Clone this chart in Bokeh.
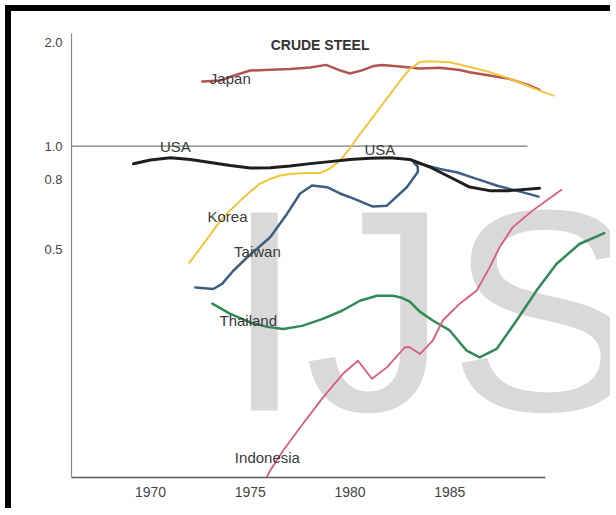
from bokeh.plotting import figure
from bokeh.models import Range1d, FixedTicker, CustomJSTickFormatter, Label
from bokeh.core.properties import value
from bokeh.embed import file_html
from bokeh.resources import INLINE

# ---------------- data ----------------
year_ticks = [1970, 1975, 1980, 1985]
value_ticks = [0.5, 0.8, 1.0, 2.0]

usa_years = [1969.15, 1970, 1971, 1972, 1973, 1974, 1975, 1976, 1977, 1978, 1979,
             1980, 1981, 1982, 1983, 1983.5, 1984, 1985, 1986, 1987, 1988, 1989.5]
usa_vals = [0.888, 0.911, 0.925, 0.914, 0.896, 0.878, 0.863, 0.865, 0.875, 0.889, 0.901,
            0.914, 0.921, 0.924, 0.914, 0.892, 0.869, 0.813, 0.760, 0.742, 0.742, 0.754]

japan_years = [1972.6, 1973.5, 1974.2, 1975.0, 1976.0, 1977.0, 1978.0, 1978.8, 1979.5, 1980.0,
               1980.6, 1981.2, 1981.6, 1982.5, 1983.5, 1984.5, 1985.5, 1986.0, 1987.0, 1988.0,
               1989.0, 1989.5]
japan_vals = [1.540, 1.551, 1.604, 1.658, 1.668, 1.675, 1.692, 1.722, 1.660, 1.625,
              1.660, 1.710, 1.722, 1.703, 1.680, 1.690, 1.665, 1.639, 1.604, 1.568,
              1.500, 1.457]

korea_years = [1971.95, 1972.5, 1973, 1973.5, 1974, 1974.5, 1975, 1975.5, 1976, 1976.5, 1977,
               1977.5, 1978, 1978.5, 1979, 1979.5, 1980, 1980.5, 1981, 1981.5, 1982, 1982.5,
               1983, 1983.5, 1984, 1985, 1986, 1987, 1988, 1989, 1989.5, 1990.2]
korea_vals = [0.458, 0.505, 0.553, 0.607, 0.651, 0.694, 0.737, 0.778, 0.802, 0.821, 0.829,
              0.834, 0.835, 0.835, 0.860, 0.907, 0.987, 1.084, 1.182, 1.294, 1.412, 1.546,
              1.675, 1.755, 1.765, 1.752, 1.697, 1.641, 1.572, 1.490, 1.450, 1.402]

taiwan_years = [1972.25, 1973.15, 1973.6, 1974.15, 1974.85, 1976.0, 1976.85, 1977.5, 1978.1,
                1978.85, 1979.5, 1980.0, 1981.15, 1981.85, 1982.85, 1983.4, 1983.4, 1983.2,
                1983.5, 1984.5, 1985.35, 1986.35, 1987.35, 1988.35, 1989.45]
taiwan_vals = [0.388, 0.384, 0.398, 0.434, 0.475, 0.543, 0.636, 0.728, 0.768,
               0.759, 0.728, 0.710, 0.667, 0.671, 0.759, 0.840, 0.870, 0.895,
               0.888, 0.858, 0.839, 0.803, 0.768, 0.742, 0.713]

thailand_years = [1973.1, 1974.0, 1975.0, 1975.85, 1976.65, 1977.6, 1978.6, 1979.6, 1980.5,
                  1981.35, 1982.15, 1982.6, 1983.0, 1983.5, 1984.15, 1985.0, 1985.85, 1986.5,
                  1987.35, 1988.35, 1989.35, 1990.35, 1991.5, 1992.75]
thailand_vals = [0.348, 0.325, 0.307, 0.298, 0.294, 0.300, 0.314, 0.332, 0.355,
                 0.367, 0.367, 0.362, 0.353, 0.330, 0.311, 0.291, 0.254, 0.243,
                 0.257, 0.311, 0.380, 0.454, 0.519, 0.558]

indonesia_years = [1975.8, 1976.0, 1976.65, 1977.65, 1978.65, 1979.65, 1980.4, 1981.1, 1981.85,
                   1982.75, 1983.0, 1983.5, 1984.15, 1984.65, 1985.5, 1986.35, 1987.0, 1987.5,
                   1988.15, 1989.15, 1990.6]
indonesia_vals = [0.108, 0.1139, 0.1302, 0.1560, 0.1859, 0.2177, 0.2375, 0.2105, 0.2272,
                  0.2600, 0.2600, 0.2484, 0.2720, 0.311, 0.348, 0.380, 0.444, 0.508,
                  0.580, 0.649, 0.746]

series = [
    ("Japan", japan_years, japan_vals, "#b0544f", 2.5),
    ("Korea", korea_years, korea_vals, "#f2c53a", 2.0),
    ("Taiwan", taiwan_years, taiwan_vals, "#3d5f80", 2.5),
    ("Thailand", thailand_years, thailand_vals, "#2f8a55", 2.5),
    ("Indonesia", indonesia_years, indonesia_vals, "#db5a80", 1.8),
    ("USA", usa_years, usa_vals, "#1e1e1e", 3.0),
]

# label anchors (annotation positions)
label_pos = [
    ("USA", 1971.25, 1.0),
    ("USA", 1981.5, 0.98),
    ("Japan", 1974.0, 1.57),
    ("Korea", 1973.86, 0.624),
    ("Taiwan", 1975.36, 0.495),
    ("Thailand", 1974.9, 0.311),
    ("Indonesia", 1975.86, 0.124),
]

FONT = "Liberation Sans"

p = figure(width=605, height=503, y_axis_type="log",
           x_range=Range1d(1966.04, 1993.36), y_range=Range1d(0.1087, 2.318),
           output_backend="svg", toolbar_location=None,
           min_border_left=60, min_border_right=0, min_border_top=9, min_border_bottom=37,
           background_fill_color="white", border_fill_color="white")
p.outline_line_color = None
p.grid.visible = False
p.styles = {"border-top": "6px solid #000", "border-left": "6px solid #000",
            "margin-left": "5px", "margin-top": "5px"}

# watermark (drawn first, underneath the lines)
p.text(x=[1973.7], y=[0.3325], text=["IJS"], text_font=value(FONT), text_font_size="288px",
       text_color="#d9d9d9", text_align="left", text_baseline="alphabetic")

# reference line at 1.0
p.line([1966.04, 1988.9], [1.0, 1.0], line_color="#7a7a7a", line_width=1.2)

for name, xs, ys, color, lw in series:
    p.line(xs, ys, line_color=color, line_width=lw, line_join="round", line_cap="round")

# axes
p.xaxis.ticker = FixedTicker(ticks=year_ticks)
p.xaxis.bounds = (1966.04, 1989.8)
p.xaxis.axis_line_color = "#5a5a5a"
p.xaxis.axis_line_width = 1.5
p.xaxis.major_label_text_font_size = "14px"
p.xaxis.major_label_standoff = 9

p.yaxis.ticker = FixedTicker(ticks=value_ticks)
p.yaxis.formatter = CustomJSTickFormatter(code="return tick.toFixed(1);")
p.yaxis.bounds = (0.1087, 2.124)
p.yaxis.axis_line_color = "#8a8a8a"
p.yaxis.axis_line_width = 1.2
p.yaxis.major_label_text_font_size = "13px"
p.yaxis.major_label_standoff = 9

for ax in (p.xaxis, p.yaxis):
    ax.major_tick_line_color = None
    ax.minor_tick_line_color = None
    ax.major_tick_out = 0
    ax.major_tick_in = 0
    ax.major_label_text_font = FONT
    ax.major_label_text_color = "#444444"

# title
p.add_layout(Label(x=1978.5, y=1.97, text="CRUDE STEEL", text_font=FONT, text_font_size="14px",
                   text_font_style="bold", text_color="#333333", text_align="center",
                   text_baseline="middle"))

for txt, lx, ly in label_pos:
    p.add_layout(Label(x=lx, y=ly, text=txt, text_font=FONT, text_font_size="15px",
                       text_color="#3a3a3a", text_align="center", text_baseline="middle"))

open("out.html", "w").write(file_html(p, INLINE))
